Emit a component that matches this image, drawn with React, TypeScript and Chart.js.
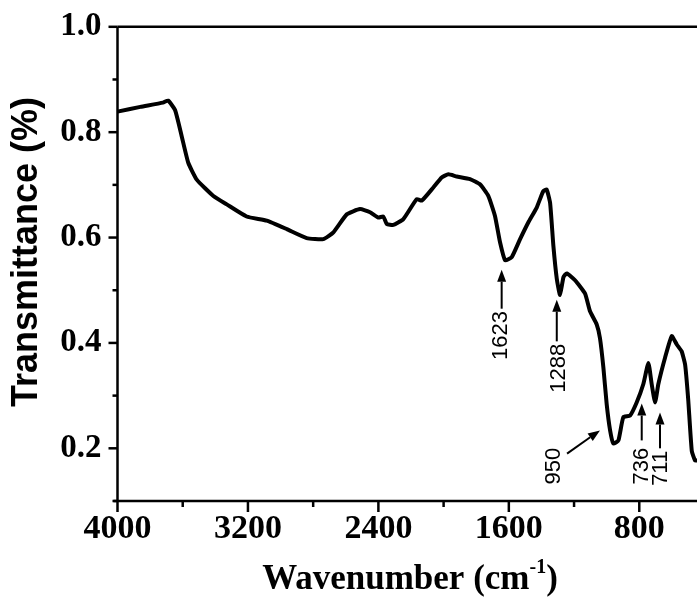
import { useEffect, useRef } from 'react';
import { Chart, registerables } from 'chart.js';

Chart.register(...registerables);

const WAVENUMBER = [4000, 3860, 3721, 3690, 3647, 3606, 3566, 3514, 3412, 3330, 3208, 3085, 2962, 2840, 2738, 2676, 2594, 2513, 2451, 2400, 2370, 2349, 2308, 2247, 2165, 2134, 2063, 2012, 1971, 1920, 1838, 1777, 1726, 1685, 1654, 1623, 1582, 1531, 1480, 1429, 1389, 1368, 1347, 1327, 1306, 1286, 1265, 1245, 1194, 1133, 1102, 1061, 1041, 1020, 1000, 979, 959, 928, 898, 857, 816, 775, 744, 724, 703, 683, 642, 601, 570, 540, 519, 500, 478, 458, 446];
const TRANSMITTANCE = [0.839, 0.848, 0.856, 0.860, 0.842, 0.792, 0.742, 0.710, 0.679, 0.663, 0.640, 0.632, 0.616, 0.599, 0.597, 0.610, 0.644, 0.654, 0.648, 0.638, 0.640, 0.626, 0.624, 0.635, 0.673, 0.670, 0.695, 0.714, 0.720, 0.716, 0.711, 0.701, 0.679, 0.641, 0.591, 0.557, 0.563, 0.597, 0.629, 0.657, 0.688, 0.691, 0.666, 0.585, 0.522, 0.491, 0.525, 0.532, 0.519, 0.494, 0.46, 0.435, 0.409, 0.353, 0.284, 0.234, 0.209, 0.215, 0.259, 0.262, 0.287, 0.322, 0.362, 0.322, 0.287, 0.322, 0.372, 0.413, 0.397, 0.384, 0.359, 0.293, 0.195, 0.177, 0.177];

const X_MIN = 446;
const X_MAX = 4000;
const X_TICKS = [4000, 3600, 3200, 2800, 2400, 2000, 1600, 1200, 800];
const X_LABELS = [4000, 3200, 2400, 1600, 800];
const Y_MIN = 0.1;
const Y_MAX = 1.0;
const Y_TICKS = [0.1, 0.2, 0.3, 0.4, 0.5, 0.6, 0.7, 0.8, 0.9, 1.0];
const Y_LABELS = [0.2, 0.4, 0.6, 0.8, 1.0];

const PEAK_LABELS = ['1623', '1288', '950', '736', '711'];
const ARROW_TAIL_X = [1644, 1306, 1243, 785, 673];
const ARROW_TAIL_Y = [0.465, 0.403, 0.19, 0.215, 0.2];
const ARROW_TIP_X = [1644, 1306, 1041, 785, 673];
const ARROW_TIP_Y = [0.539, 0.482, 0.234, 0.285, 0.268];
const LABEL_X = [1654, 1301, 1329, 789, 673];
const LABEL_Y = [0.414, 0.352, 0.166, 0.166, 0.162];

const X_TITLE = 'Wavenumber (cm';
const X_TITLE_SUP = '-1';
const X_TITLE_END = ')';
const Y_TITLE = 'Transmittance (%)';

const SERIF = '"Liberation Serif", "Times New Roman", serif';
const SANS = '"Liberation Sans", Arial, sans-serif';

const isIn = (arr: number[], v: number) => arr.some((a) => Math.abs(a - v) < 1e-6);

const decorPlugin = {
  id: 'decor',
  afterDraw(chart: any) {
    const ctx = chart.ctx as CanvasRenderingContext2D;
    const { left, right, top, bottom } = chart.chartArea;
    const xs = chart.scales.x;
    const ys = chart.scales.y;
    ctx.save();
    ctx.strokeStyle = '#000';
    ctx.fillStyle = '#000';
    ctx.lineWidth = 2.5;
    ctx.lineCap = 'butt';
    // axes
    ctx.beginPath();
    ctx.moveTo(left, top);
    ctx.lineTo(left, bottom);
    ctx.moveTo(left - 4, bottom);
    ctx.lineTo(right, bottom);
    ctx.moveTo(left, top);
    ctx.lineTo(right, top);
    ctx.stroke();
    // x ticks
    X_TICKS.forEach((v) => {
      const px = xs.getPixelForValue(v);
      const len = isIn(X_LABELS, v) ? 11 : 6;
      ctx.beginPath();
      ctx.moveTo(px, bottom);
      ctx.lineTo(px, bottom + len);
      ctx.stroke();
    });
    // y ticks
    Y_TICKS.forEach((v) => {
      const py = ys.getPixelForValue(v);
      const len = isIn(Y_LABELS, v) ? 9 : 5;
      ctx.beginPath();
      ctx.moveTo(left, py);
      ctx.lineTo(left - len, py);
      ctx.stroke();
    });
    // arrows and peak labels
    ctx.lineWidth = 2;
    PEAK_LABELS.forEach((lab, i) => {
      const x0 = xs.getPixelForValue(ARROW_TAIL_X[i]);
      const y0 = ys.getPixelForValue(ARROW_TAIL_Y[i]);
      const x1 = xs.getPixelForValue(ARROW_TIP_X[i]);
      const y1 = ys.getPixelForValue(ARROW_TIP_Y[i]);
      const ang = Math.atan2(y1 - y0, x1 - x0);
      const hl = 12;
      const hw = 4.5;
      const bx = x1 - hl * Math.cos(ang);
      const by = y1 - hl * Math.sin(ang);
      ctx.beginPath();
      ctx.moveTo(x0, y0);
      ctx.lineTo(bx, by);
      ctx.stroke();
      ctx.beginPath();
      ctx.moveTo(x1, y1);
      ctx.lineTo(bx + hw * Math.sin(ang), by - hw * Math.cos(ang));
      ctx.lineTo(bx - hw * Math.sin(ang), by + hw * Math.cos(ang));
      ctx.closePath();
      ctx.fill();
      const tx = xs.getPixelForValue(LABEL_X[i]);
      const ty = ys.getPixelForValue(LABEL_Y[i]);
      ctx.save();
      ctx.translate(tx, ty);
      ctx.rotate(-Math.PI / 2);
      ctx.font = `22px ${SANS}`;
      ctx.textAlign = 'center';
      ctx.textBaseline = 'middle';
      ctx.fillText(lab, 0, 1);
      ctx.restore();
    });
    // y title
    ctx.save();
    ctx.translate(27, 252);
    ctx.rotate(-Math.PI / 2);
    ctx.font = `bold 36px ${SANS}`;
    ctx.textAlign = 'center';
    ctx.textBaseline = 'middle';
    ctx.fillText(Y_TITLE, 0, 0);
    ctx.restore();
    // x title with superscript
    const mainFont = `bold 35px ${SERIF}`;
    const supFont = `bold 20px ${SERIF}`;
    ctx.font = mainFont;
    const w1 = ctx.measureText(X_TITLE).width;
    const w3 = ctx.measureText(X_TITLE_END).width;
    ctx.font = supFont;
    const w2 = ctx.measureText(X_TITLE_SUP).width;
    const total = w1 + w2 + w3;
    let sx = 410 - total / 2;
    const base = 589;
    ctx.textAlign = 'left';
    ctx.textBaseline = 'alphabetic';
    ctx.font = mainFont;
    ctx.fillText(X_TITLE, sx, base);
    sx += w1;
    ctx.font = supFont;
    ctx.fillText(X_TITLE_SUP, sx, base - 16);
    sx += w2;
    ctx.font = mainFont;
    ctx.fillText(X_TITLE_END, sx, base);
    ctx.restore();
  },
};

export default function App() {
  const ref = useRef<HTMLCanvasElement | null>(null);
  useEffect(() => {
    if (!ref.current) return;
    const chart = new Chart(ref.current, {
      type: 'scatter',
      data: {
        datasets: [
          {
            data: WAVENUMBER.map((x, i) => ({ x, y: TRANSMITTANCE[i] })),
            showLine: true,
            borderColor: '#000',
            borderWidth: 4,
            pointRadius: 0,
            tension: 0.15,
            fill: false,
          },
        ],
      },
      options: {
        animation: false,
        responsive: false,
        devicePixelRatio: 1,
        layout: { padding: { top: 23, right: 0, left: 0, bottom: 0 } },
        plugins: { legend: { display: false }, tooltip: { enabled: false } },
        scales: {
          x: {
            type: 'linear',
            reverse: true,
            min: X_MIN,
            max: X_MAX,
            afterBuildTicks: (s: any) => {
              s.ticks = X_TICKS.map((v) => ({ value: v }));
            },
            afterFit: (s: any) => {
              s.height = 97;
            },
            ticks: {
              autoSkip: false,
              maxRotation: 0,
              padding: 2,
              color: '#000',
              font: { family: SERIF, weight: 'bold', size: 34 },
              callback: (v: any) => (isIn(X_LABELS, Number(v)) ? String(v) : ''),
            },
            grid: { color: 'transparent', drawOnChartArea: false, tickLength: 6 },
            border: { display: false },
          },
          y: {
            type: 'linear',
            min: Y_MIN,
            max: Y_MAX,
            afterBuildTicks: (s: any) => {
              s.ticks = Y_TICKS.map((v) => ({ value: v }));
            },
            afterFit: (s: any) => {
              s.width = 117.5;
            },
            ticks: {
              autoSkip: false,
              padding: 7,
              color: '#000',
              font: { family: SERIF, weight: 'bold', size: 33 },
              callback: (v: any) => (isIn(Y_LABELS, Number(v)) ? Number(v).toFixed(1) : ''),
            },
            grid: { color: 'transparent', drawOnChartArea: false, tickLength: 9 },
            border: { display: false },
          },
        },
      },
      plugins: [decorPlugin],
    });
    return () => chart.destroy();
  }, []);
  return (
    <div style={{ position: 'fixed', left: 0, top: 0, width: 697, height: 598, background: '#fff' }}>
      <canvas ref={ref} width={697} height={598} style={{ display: 'block' }} />
    </div>
  );
}
